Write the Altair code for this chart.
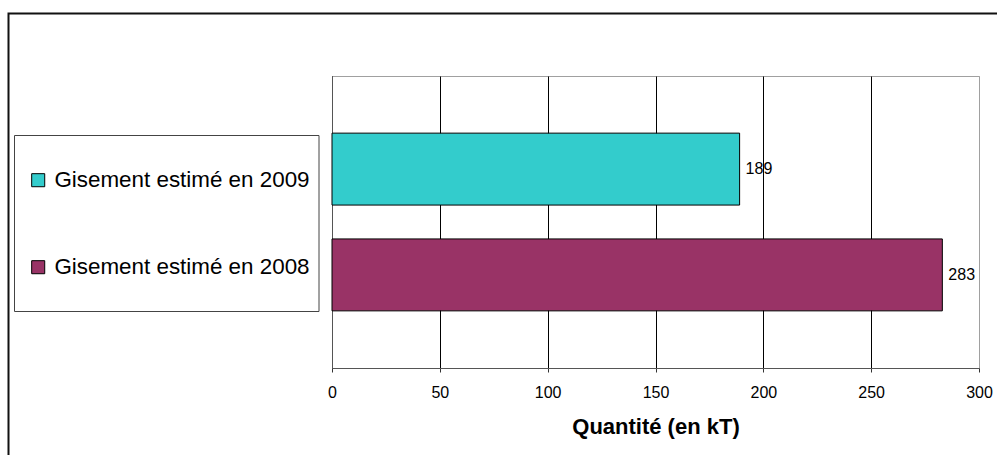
import altair as alt
import pandas as pd

series = ["Gisement estimé en 2009", "Gisement estimé en 2008"]
values = [189, 283]
colors = ["#33CCCC", "#993366"]
x_ticks = [0, 50, 100, 150, 200, 250, 300]
axis_title = "Quantité (en kT)"

FONT = "Liberation Sans"

df = pd.DataFrame({"serie": series, "quantite": values})

y_enc = alt.Y(
    "serie:N",
    sort=series,
    scale=alt.Scale(domain=series, paddingInner=0.32, paddingOuter=0.54),
    axis=alt.Axis(labels=False, ticks=False, title=None, grid=False,
                  domainColor="#555555", domainWidth=1),
)

x_enc = alt.X(
    "quantite:Q",
    scale=alt.Scale(domain=[0, 300], nice=False),
    axis=alt.Axis(
        values=x_ticks,
        title=axis_title,
        titleFont=FONT, titleFontSize=22, titleFontWeight="bold",
        titleColor="black", titlePadding=16,
        labelFont=FONT, labelFontSize=16, labelColor="black",
        labelPadding=12, labelFlush=False,
        tickSize=4, tickColor="#333333",
        domainColor="#555555",
        grid=True,
        gridColor={"condition": {"test": "datum.value >= 300", "value": "#a0a0a0"},
                   "value": "black"},
        gridOpacity=1,
    ),
)

bars = alt.Chart(df).mark_bar(stroke="black", strokeWidth=1).encode(
    x=x_enc,
    y=y_enc,
    color=alt.Color(
        "serie:N",
        sort=series,
        scale=alt.Scale(domain=series, range=colors),
        legend=alt.Legend(
            orient="none", legendX=-305, legendY=93, title=None,
            symbolType="square", symbolSize=170,
            symbolStrokeColor="black", symbolStrokeWidth=1,
            labelFont=FONT, labelFontSize=22.4, labelColor="black",
            labelOffset=5, rowPadding=64, padding=0, labelLimit=400,
        ),
    ),
)

labels = alt.Chart(df).mark_text(
    align="left", baseline="middle", dx=6, fontSize=16, font=FONT, color="black"
).encode(
    x=alt.X("quantite:Q"),
    y=alt.Y("serie:N", sort=series),
    text=alt.Text("quantite:Q"),
)

one = alt.Data(values=[{"k": 1}])

outer_box = alt.Chart(one).mark_rect(
    fill="transparent", stroke="#111111", strokeWidth=2
).encode(
    x=alt.value(-323.5), x2=alt.value(700),
    y=alt.value(-62.5), y2=alt.value(420),
)

legend_box = alt.Chart(one).mark_rect(
    fill="white", stroke="#444444", strokeWidth=1
).encode(
    x=alt.value(-317.5), x2=alt.value(-13),
    y=alt.value(59.5), y2=alt.value(235.5),
)

chart = alt.layer(outer_box, legend_box, bars, labels).properties(
    width=647,
    height=292,
    padding={"left": 332, "top": 76, "right": 18, "bottom": 87},
    autosize=alt.AutoSizeParams(type="none"),
).configure_view(stroke="#a0a0a0", strokeWidth=1)

chart.save("out.html", embed_options={"renderer": "svg", "actions": False})
